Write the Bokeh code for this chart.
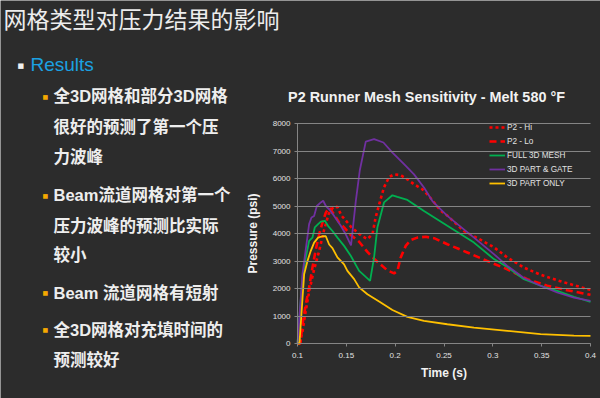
from bokeh.plotting import figure
from bokeh.models import Range1d, FixedTicker, Label, Legend, LegendItem, LinearAxis
from bokeh.embed import file_html
from bokeh.resources import INLINE

# ---------------- data ----------------
slide_title = "网格类型对压力结果的影响"
section = "Results"
bullet_lines = ["全3D网格和部分3D网格", "很好的预测了第一个压", "力波峰",
                "Beam流道网格对第一个", "压力波峰的预测比实际", "较小",
                "Beam 流道网格有短射",
                "全3D网格对充填时间的", "预测较好"]
bullet_starts = [0, 3, 6, 7]

chart_title = "P2 Runner Mesh Sensitivity - Melt 580 °F"
x_label = "Time (s)"
y_label = "Pressure (psi)"
x_ticks = [0.1, 0.15, 0.2, 0.25, 0.3, 0.35, 0.4]
y_ticks = [0, 1000, 2000, 3000, 4000, 5000, 6000, 7000, 8000]

hi_t = [0.1020, 0.1050, 0.1085, 0.1120, 0.1167, 0.1218, 0.1270, 0.1320, 0.1370, 0.1410,
        0.1450, 0.1500, 0.1550, 0.1600, 0.1650, 0.1716, 0.1767, 0.1801, 0.1852, 0.1886,
        0.1938, 0.1989, 0.2057, 0.2125, 0.2193, 0.2278, 0.2347, 0.2466, 0.2534, 0.2700,
        0.2807, 0.3011, 0.3148, 0.3318, 0.3489, 0.3659, 0.3830, 0.4000]
hi_p = [0, 400, 1200, 1900, 2650, 3315, 4100, 4720, 4980, 4960,
        4650, 4450, 4230, 4080, 3930, 3800, 3970, 4600, 5260, 5680,
        6050, 6150, 6120, 5970, 5790, 5610, 5360, 4830, 4650, 4100,
        3900, 3500, 3130, 2760, 2500, 2300, 2120, 1950]

lo_t = [0.1000, 0.1030, 0.1051, 0.1085, 0.1119, 0.1153, 0.1188, 0.1222, 0.1256, 0.1290,
        0.1324, 0.1375, 0.1426, 0.1477, 0.1545, 0.1631, 0.1716, 0.1784, 0.1852, 0.1920,
        0.1989, 0.2023, 0.2057, 0.2108, 0.2159, 0.2227, 0.2313, 0.2398, 0.2534, 0.2739,
        0.2943, 0.3148, 0.3352, 0.3557, 0.3761, 0.4000]
lo_p = [0, 0, 700, 1430, 2040, 2760, 3430, 3970, 4400, 4760,
        4940, 4700, 4400, 4220, 3950, 3700, 3330, 3080, 2870, 2660,
        2550, 2640, 3130, 3550, 3760, 3850, 3880, 3830, 3610, 3310,
        3000, 2700, 2340, 2100, 1940, 1770]

full_t = [0.1000, 0.1051, 0.1085, 0.1119, 0.1153, 0.1177, 0.1211, 0.1239, 0.1280, 0.1314,
          0.1358, 0.1409, 0.1477, 0.1545, 0.1631, 0.1699, 0.1743, 0.1784, 0.1818, 0.1886,
          0.1972, 0.2023, 0.2125, 0.2295, 0.2534, 0.2807, 0.3011, 0.3148, 0.3318, 0.3489,
          0.3659, 0.3830, 0.4000]
full_p = [0, 2400, 3130, 3730, 3850, 4220, 4340, 4430, 4460, 4270,
          4090, 3850, 3550, 3190, 2640, 2420, 2280, 3130, 4220, 5130,
          5390, 5330, 5220, 4820, 4280, 3670, 3070, 2780, 2340, 2100,
          1915, 1700, 1515]

gate_t = [0.1000, 0.1051, 0.1085, 0.1119, 0.1143, 0.1170, 0.1198, 0.1239, 0.1263, 0.1290,
          0.1324, 0.1375, 0.1443, 0.1494, 0.1548, 0.1597, 0.1638, 0.1699, 0.1784, 0.1880,
          0.1972, 0.2091, 0.2193, 0.2295, 0.2381, 0.2534, 0.2807, 0.3011, 0.3148, 0.3318,
          0.3489, 0.3659, 0.3830, 0.4000]
gate_p = [0, 2520, 3430, 4340, 4580, 4640, 5000, 5130, 5190, 5000,
          4880, 4640, 4280, 3970, 3570, 5180, 6300, 7340, 7430, 7310,
          6940, 6520, 6150, 5670, 5180, 4640, 3850, 3250, 2820, 2380,
          2100, 1855, 1670, 1550]

only_t = [0.1000, 0.1020, 0.1068, 0.1102, 0.1136, 0.1170, 0.1211, 0.1256, 0.1290, 0.1324,
          0.1358, 0.1409, 0.1477, 0.1511, 0.1580, 0.1631, 0.1716, 0.1852, 0.1972, 0.2125,
          0.2295, 0.2534, 0.2807, 0.3148, 0.3489, 0.3830, 0.4000]
only_p = [0, 0, 2520, 3000, 3370, 3670, 3850, 3900, 3900, 3600,
          3470, 3130, 2880, 2640, 2340, 2040, 1790, 1490, 1220, 970,
          820, 700, 580, 460, 340, 290, 280]

series_names = ["P2 - Hi", "P2 - Lo", "FULL 3D MESH", "3D PART & GATE", "3D PART ONLY"]

# ---------------- geometry / style ----------------
BG = "#2c2c2c"
GRID = "#858585"
W, H = 600, 398
# chart plotting area in page pixels
PF_L, PF_R, PF_T, PF_B = 297, 590, 123, 343
X0, X1 = x_ticks[0], x_ticks[-1]
Y0, Y1 = y_ticks[0], y_ticks[-1]
kx = (X1 - X0) / (PF_R - PF_L)
ky = (Y1 - Y0) / (PF_B - PF_T)

MIXED = "'Liberation Sans', 'Noto Sans CJK SC'"

p = figure(width=W, height=H, output_backend="svg", toolbar_location=None, title=None,
           x_range=Range1d(0, W), y_range=Range1d(H, 0),
           x_axis_type=None, y_axis_type=None,
           min_border=0, min_border_left=0, min_border_right=0,
           min_border_top=0, min_border_bottom=0,
           background_fill_color=BG, border_fill_color=BG, outline_line_color=None)
p.grid.visible = False
p.outline_line_alpha = 0

# chart coordinate system placed over the chart area
p.extra_x_ranges = {"t": Range1d(X0 - PF_L * kx, X0 + (W - PF_L) * kx)}
p.extra_y_ranges = {"p": Range1d(Y0 - (H - PF_B) * ky, Y0 + PF_B * ky)}

xax = LinearAxis(x_range_name="t", y_range_name="p", fixed_location=Y0,
                 bounds=(X0, X1), ticker=FixedTicker(ticks=x_ticks),
                 major_label_overrides={t: str(t) for t in x_ticks},
                 axis_label=x_label)
yax = LinearAxis(x_range_name="t", y_range_name="p", fixed_location=X0,
                 bounds=(Y0, Y1), ticker=FixedTicker(ticks=y_ticks),
                 axis_label=y_label)
for ax in (xax, yax):
    ax.axis_line_color = GRID
    ax.major_tick_line_color = GRID
    ax.minor_tick_line_color = None
    ax.major_label_text_font = "Liberation Sans"
    ax.major_label_text_font_size = "8px"
    ax.major_label_text_color = "#e2e2e2"
    ax.axis_label_text_font = "Liberation Sans"
    ax.axis_label_text_font_style = "bold"
    ax.axis_label_text_font_size = "12px"
    ax.axis_label_text_color = "#f2f2f2"
xax.major_tick_in = 0
xax.major_tick_out = 3
xax.major_label_standoff = 6
xax.axis_label_standoff = 5
# y ticks drawn across the plotting area act as the horizontal gridlines
yax.major_tick_in = PF_R - PF_L
yax.major_tick_out = 3
yax.major_label_standoff = 4
yax.axis_label_standoff = 10
p.add_layout(xax, "below")
p.add_layout(yax, "left")

kw = dict(x_range_name="t", y_range_name="p")
r_hi = p.line(hi_t, hi_p, line_color="#ff0000", line_width=2.6, line_dash="3 3", **kw)
r_lo = p.line(lo_t, lo_p, line_color="#ff0000", line_width=2.6, line_dash="7 4", **kw)
r_full = p.line(full_t, full_p, line_color="#00b050", line_width=1.8, **kw)
r_gate = p.line(gate_t, gate_p, line_color="#7030a0", line_width=1.8, **kw)
r_only = p.line(only_t, only_p, line_color="#ffc000", line_width=1.8, **kw)

legend = Legend(items=[LegendItem(label=n, renderers=[r]) for n, r in
                       zip(series_names, [r_hi, r_lo, r_full, r_gate, r_only])],
                location=(489, H - 190), orientation="vertical",
                background_fill_alpha=0, border_line_color=None,
                label_text_font="Liberation Sans", label_text_font_size="8.2px",
                label_text_color="#e2e2e2", glyph_width=16, glyph_height=14,
                label_height=14, label_standoff=2, spacing=0, padding=0, margin=0)
p.add_layout(legend, "center")


def lab(px, py, text, size, color, font=MIXED, style="normal", align="left"):
    p.add_layout(Label(x=px, y=py, text=text, text_font=font,
                       text_font_size=size, text_font_style=style, text_color=color,
                       text_align=align, text_baseline="middle"))


lab(3, 17, slide_title, "23px", "#ededed", font="'Noto Sans CJK SC'")
lab(17, 65, "■", "7px", "#f0f0f0", font="'DejaVu Sans'")
lab(30, 64, section, "19px", "#1ba1e2", font="Liberation Sans")
lab(426, 96, chart_title, "14.4px", "#f2f2f2", font="Liberation Sans",
    style="bold", align="center")

line_y = [95.5, 126, 156, 194.5, 225, 254, 292, 329, 359]
for i, (txt, yy) in enumerate(zip(bullet_lines, line_y)):
    lab(53, yy, txt, "16.5px", "#eeeeee", style="bold")
    if i in bullet_starts:
        lab(42, yy, "■", "6px", "#f5a800", font="'DejaVu Sans'")

html = file_html(p, INLINE)
html = html.replace("<body>", '<body style="background-color:%s">' % BG, 1)
open("out.html", "w").write(html)
